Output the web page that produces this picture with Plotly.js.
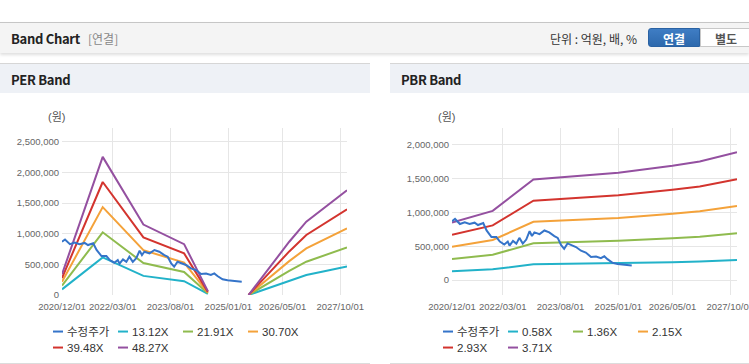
<!DOCTYPE html>
<html>
<head>
<meta charset="utf-8">
<script src="https://cdn.plot.ly/plotly-3.0.1.min.js"></script>
<style>
  html, body { margin:0; padding:0; background:#fff; }
  body { width:749px; height:364px; overflow:hidden; position:relative; font-family:"Noto Sans CJK KR","Liberation Sans",sans-serif; }
  #topbar { position:absolute; left:0; top:22px; width:749px; height:30px; background:#f4f4f4; border-top:1px solid #c6c6c6; box-shadow:0 2px 3px rgba(0,0,0,0.13); }
  #topbar .ttl { position:absolute; left:11px; top:6px; font-size:13px; font-weight:bold; color:#222; letter-spacing:-0.3px; }
  #topbar .sub { position:absolute; left:88px; top:7px; font-size:12px; color:#888; }
  #topbar .unit { position:absolute; left:550px; top:7px; font-size:12px; color:#333; }
  .btn { position:absolute; top:5px; height:19px; line-height:19px; font-size:12px; font-weight:bold; text-align:center; box-sizing:border-box; }
  #b1 { left:648px; width:52px; background:linear-gradient(#3f7dc4,#2d69ad); color:#fff; border-radius:3px 0 0 3px; border:1px solid #2a62a3; }
  #b2 { left:700px; width:52px; background:#fff; color:#555; border:1px solid #c8c8c8; }
  .panel { position:absolute; top:63px; height:299px; border-top:1px solid #d6d6d6; border-bottom:1px solid #dcdcdc; background:#fff; }
  .phead { position:absolute; left:0; top:0; right:0; height:29px; background:#eef1f6; }
  .phead span { position:absolute; left:11px; top:6px; font-size:13px; font-weight:bold; color:#222; letter-spacing:-0.3px; }
  #perP { left:0; width:370px; }
  #pbrP { left:390px; width:370px; }
  .chart { position:absolute; top:95px; height:269px; }
  #per { left:0; width:370px; }
  #pbr { left:390px; width:380px; }
</style>
</head>
<body>
<div id="topbar">
  <div class="ttl">Band Chart</div>
  <div class="sub">[연결]</div>
  <div class="unit">단위 : 억원, 배, %</div>
  <div class="btn" id="b1">연결</div>
  <div class="btn" id="b2">별도</div>
</div>
<div class="panel" id="perP"><div class="phead"><span>PER Band</span></div></div>
<div class="panel" id="pbrP"><div class="phead"><span>PBR Band</span></div></div>
<div class="chart" id="per"></div>
<div class="chart" id="pbr"></div>
<script>
// ---------- shared x-axis ticks ----------
const tickDates = ['2020-12-01','2022-03-01','2023-08-01','2025-01-01','2026-05-01','2027-10-01'];
const tickLabels = ['2020/12/01','2022/03/01','2023/08/01','2025/01/01','2026/05/01','2027/10/01'];

// ---------- adjusted price (수정주가) ----------
const priceDates = ['2020-12-01','2020-12-28','2021-02-10','2021-03-25','2021-05-07','2021-06-22','2021-07-22','2021-09-07','2021-10-07','2021-11-20',
  '2022-01-03','2022-02-03','2022-03-15','2022-04-15','2022-05-01','2022-06-01','2022-07-01','2022-07-28','2022-08-28','2022-09-28',
  '2022-10-28','2022-11-18','2022-12-10','2023-01-25','2023-03-10','2023-04-22','2023-06-07','2023-07-07','2023-08-07','2023-09-03',
  '2023-10-03','2023-11-03','2023-12-18','2024-02-01','2024-03-15','2024-05-01','2024-06-15','2024-07-28','2024-08-28','2024-09-25',
  '2024-11-10','2024-12-25','2025-02-20','2025-05-01'];
const priceValues = [870000,905000,830000,855000,830000,850000,815000,845000,735000,636000,
  636000,570000,527000,570000,510000,580000,540000,625000,540000,600000,
  723000,652000,706000,680000,734000,706000,652000,625000,517000,462000,
  543000,517000,490000,435000,408000,343000,350000,326000,353000,310000,
  256000,240000,230000,217000];

// ---------- PER band ----------
const perNames = ['13.12X','21.91X','30.70X','39.48X','48.27X'];
const perDates = ['2020-12-01','2021-12-01','2022-12-01','2023-12-01','2024-07-01','2025-01-01','2025-07-01','2026-02-01','2026-07-01','2026-12-01','2027-05-01','2027-12-01'];
const per1312 = [92000, 613000, 312000, 226000, 17000, null, 0, 138000, 236000, 325000, 384000, 464000];
const per2191 = [153000, 1023000, 521000, 377000, 28000, null, 0, 230000, 394000, 543000, 642000, 776000];
const per3070 = [215000, 1434000, 731000, 528000, 40000, null, 0, 322000, 553000, 761000, 900000, 1087000];
const per3948 = [276000, 1844000, 940000, 679000, 51000, null, 0, 415000, 711000, 979000, 1157000, 1398000];
const per4827 = [338000, 2254000, 1149000, 830000, 63000, null, 0, 507000, 869000, 1197000, 1414000, 1709000];

// ---------- PBR band ----------
const pbrNames = ['0.58X','1.36X','2.15X','2.93X','3.71X'];
const pbrDates = ['2020-12-01','2021-12-01','2022-12-01','2025-01-01','2026-05-01','2027-01-01','2027-12-01'];
const pbr058 = [133000, 160000, 233000, 248000, 264000, 274000, 296000];
const pbr136 = [311000, 375000, 545000, 582000, 620000, 643000, 694000];
const pbr215 = [492000, 593000, 862000, 920000, 980000, 1017000, 1097000];
const pbr293 = [671000, 809000, 1175000, 1254000, 1336000, 1386000, 1494000];
const pbr371 = [850000, 1024000, 1488000, 1588000, 1692000, 1755000, 1892000];

const colors = ['#3574c9','#22b2c9','#8fbb4e','#f4a23a','#d3342e','#9450a0'];
const FONT = 'Liberation Sans, Noto Sans CJK KR, sans-serif';

function makeTraces(bandDates, bands, names) {
  const tr = [{
    x: priceDates, y: priceValues, name: '수정주가', type: 'scatter', mode: 'lines',
    line: {color: colors[0], width: 2}, zorder: 2, hoverinfo: 'skip'
  }];
  bands.forEach((b, i) => tr.push({
    x: bandDates, y: b, name: names[i], type: 'scatter', mode: 'lines', connectgaps: false,
    line: {color: colors[i + 1], width: 2}, zorder: 1, hoverinfo: 'skip'
  }));
  return tr;
}

function makeLayout(width, yrange, dtickY, marginR) {
  return {
    width: width, height: 269,
    margin: {l: 62, r: marginR, t: 33, b: 69, autoexpand: false},
    paper_bgcolor: 'rgba(0,0,0,0)', plot_bgcolor: 'rgba(0,0,0,0)',
    font: {family: FONT, size: 10, color: '#666'},
    showlegend: true,
    legend: {orientation: 'h', x: 0.407 * 285 / (width - 62 - marginR), xanchor: 'center', y: -0.132, yanchor: 'top',
      entrywidth: 20, itemwidth: 30, font: {size: 11.5, color: '#333', family: FONT},
      bgcolor: 'rgba(0,0,0,0)', traceorder: 'normal'},
    xaxis: {type: 'date', range: ['2020-12-01', '2027-12-01'], tickvals: tickDates, ticktext: tickLabels,
      tickangle: 0, ticklabeloverflow: 'allow', ticklabelstandoff: 3,
      showgrid: true, gridcolor: '#e6e6e6', showline: true, mirror: true, linecolor: '#aaaaaa', linewidth: 1,
      ticks: '', tickfont: {size: 9.5, color: '#666'}, fixedrange: true},
    yaxis: {range: yrange, dtick: dtickY, tick0: 0, tickformat: ',d', showgrid: true, gridcolor: '#e6e6e6',
      zeroline: false, showline: true, mirror: true, linecolor: '#aaaaaa', linewidth: 1,
      ticks: '', tickfont: {size: 9.5, color: '#666'}, fixedrange: true},
    annotations: [{text: '(원)', xref: 'paper', yref: 'paper', x: -0.018, y: 1.066, xanchor: 'center', yanchor: 'middle',
      showarrow: false, font: {size: 11, color: '#555', family: FONT}}]
  };
}

function tweakLegend(gd) {
  let firstY = null;
  gd.querySelectorAll('.legend .traces').forEach(function (g) {
    const p = g.querySelector('.legendlines path');
    if (p) p.setAttribute('d', 'M5,0h10');
    const t = g.querySelector('.legendtext');
    if (t) {
      t.setAttribute('x', 19);
      t.querySelectorAll('tspan').forEach(function (ts) { if (ts.hasAttribute('x')) ts.setAttribute('x', 19); });
    }
    const tf = g.getAttribute('transform') || '';
    const m = tf.match(/translate\(\s*([-\d.]+)[ ,]+([-\d.]+)\s*\)/);
    if (m) {
      const tx = parseFloat(m[1]), ty = parseFloat(m[2]);
      if (firstY === null) firstY = ty;
      if (ty > firstY + 1) g.setAttribute('transform', 'translate(' + tx + ',' + (ty - 3) + ')');
    }
  });
}

const cfg = {displayModeBar: false, staticPlot: true};
Plotly.newPlot('per', makeTraces(perDates, [per1312, per2191, per3070, per3948, per4827], perNames),
  makeLayout(370, [0, 2725000], 500000, 23), cfg).then(tweakLegend);
Plotly.newPlot('pbr', makeTraces(pbrDates, [pbr058, pbr136, pbr215, pbr293, pbr371], pbrNames),
  makeLayout(380, [-220000, 2250000], 500000, 33), cfg).then(tweakLegend);
</script>
</body>
</html>
